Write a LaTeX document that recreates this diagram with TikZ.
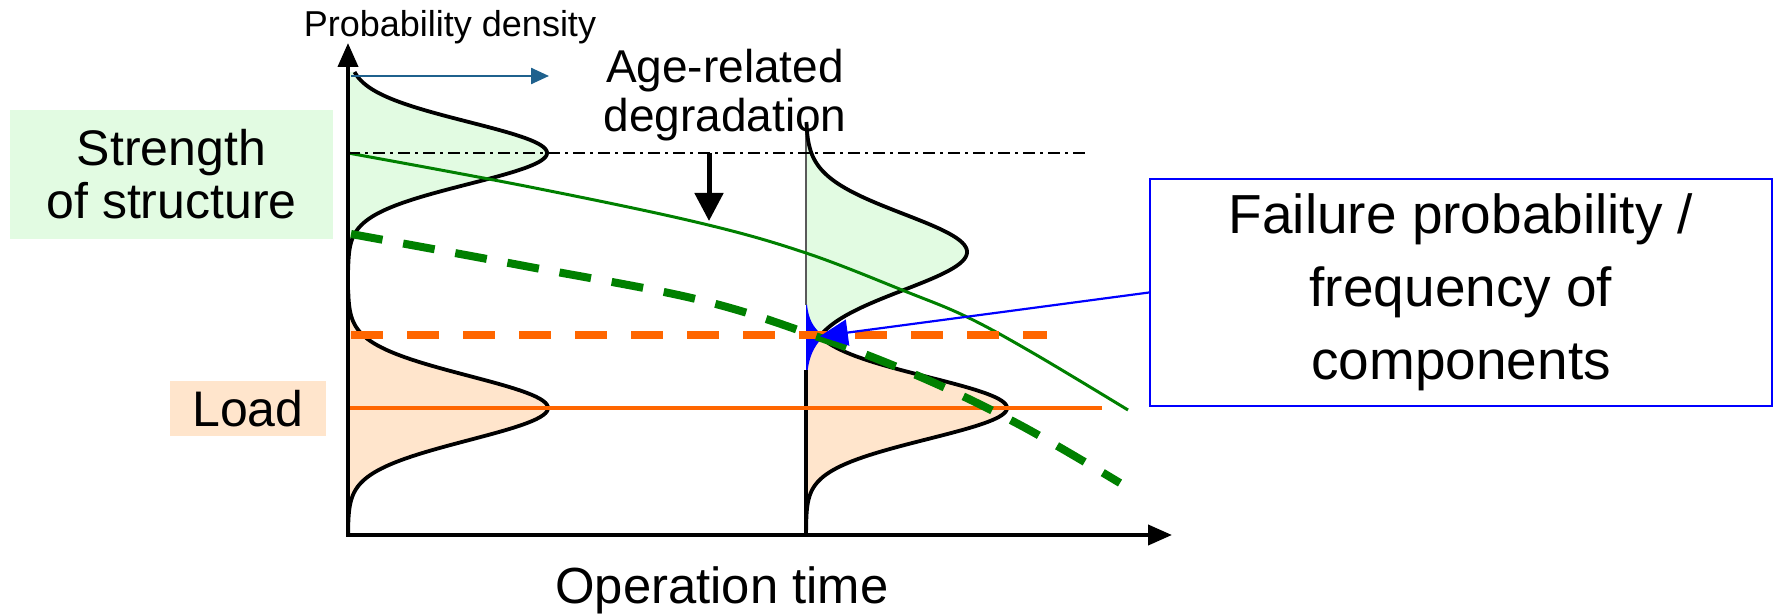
\documentclass[tikz,border=0pt]{standalone}
\usepackage{fontspec}
\setmainfont{Liberation Sans}
\usetikzlibrary{arrows.meta}
\definecolor{lgreen}{RGB}{226,251,226}
\definecolor{peach}{RGB}{255,229,204}
\definecolor{dgreen}{RGB}{0,128,0}
\definecolor{orng}{RGB}{255,102,0}
\definecolor{tealblue}{RGB}{31,97,141}
\begin{document}
\begin{tikzpicture}[x=0.5pt,y=-0.5pt,
  pdfline/.style={line width=1.9pt, black, line join=round},
  axisline/.style={line width=2pt, black},
  lbl/.style={inner sep=0pt, align=center},
  thickdash/.style={line width=4pt},
]
\useasboundingbox (0,0) rectangle (1775,614);

% ---------- label boxes ----------
\node[lbl, fill=lgreen, minimum width=161.5pt, minimum height=64.5pt,
      font=\fontsize{25}{26.5}\selectfont] (strength) at (171.5,174.5) {Strength\\of structure};
\node[lbl, fill=peach, minimum width=78pt, minimum height=27.5pt,
      font=\fontsize{25}{30}\selectfont] (load) at (248,408.5) {Load};

% ---------- pdfs at t = 0 ----------
\fill[lgreen] (348,72) -- plot[domain=72:270, samples=120, variable=\yy]
   ({348+199*exp(-0.5*((\yy-153)/31)*((\yy-153)/31))}, \yy) -- (348,270) -- cycle;
\fill[peach] (348,290) -- plot[domain=290:534, samples=120, variable=\yy]
   ({348+200*exp(-0.5*((\yy-408)/32)*((\yy-408)/32))}, \yy) -- (348,534) -- cycle;
\draw[pdfline] plot[domain=72:270, samples=120, variable=\yy]
   ({348+199*exp(-0.5*((\yy-153)/31)*((\yy-153)/31))}, \yy);
\draw[pdfline] plot[domain=290:534, samples=120, variable=\yy]
   ({348+200*exp(-0.5*((\yy-408)/32)*((\yy-408)/32))}, \yy);

% ---------- pdfs at t = t2 ----------
\fill[lgreen] (806,122) -- plot[domain=122:336.3, samples=120, variable=\yy]
   ({806+161*exp(-0.5*((\yy-252)/38)*((\yy-252)/38))}, \yy) -- (806,336.3) -- cycle;
\fill[peach] (806,336.3) -- plot[domain=336.3:532, samples=120, variable=\yy]
   ({806+201*exp(-0.5*((\yy-408)/31)*((\yy-408)/31))}, \yy) -- (806,532) -- cycle;
\fill[blue] (806,295) -- plot[domain=295:385, samples=150, variable=\yy]
   ({806+1.3*min(161*exp(-0.5*((\yy-252)/38)*((\yy-252)/38)),201*exp(-0.5*((\yy-408)/31)*((\yy-408)/31)))}, \yy) -- (806,385) -- cycle;
\draw[black!65, line width=1pt] (806,122) -- (806,305);
\draw[pdfline] plot[domain=122:336.3, samples=120, variable=\yy]
   ({806+161*exp(-0.5*((\yy-252)/38)*((\yy-252)/38))}, \yy);
\draw[pdfline] plot[domain=336.3:532, samples=120, variable=\yy]
   ({806+201*exp(-0.5*((\yy-408)/31)*((\yy-408)/31))}, \yy);
\draw[line width=1.9pt] (806,370) -- (806,533);

\coordinate (cross) at (819.8,336.3);

% ---------- reference lines ----------
\coordinate (ldA) at (348,408);  \coordinate (ldB) at (1102,408);
\draw[orng, line width=1.75pt] (ldA) -- (ldB);

\draw[dgreen, line width=1.5pt] plot[smooth, tension=0.6] coordinates
  {(348,153) (530,187) (700,223) (806,253) (907,292) (967,317) (1033,353) (1128,410)};

\coordinate (odA) at (351,335);  \coordinate (odB) at (1047,335);
\draw[orng, thickdash, dash pattern=on 16pt off 12pt] (odA) -- (odB);

\draw[dgreen, thickdash, dash pattern=on 16pt off 10.5pt] plot[smooth, tension=0.6] coordinates
  {(351,234) (530,267) (700,300) (818,337) (923,378) (1020,425) (1120,483)};

\coordinate (ddA) at (348,153);  \coordinate (ddB) at (1087,153);
\draw[line width=0.9pt, dash pattern=on 6pt off 2.5pt on 1.5pt off 2.5pt] (ddA) -- (ddB);

% ---------- arrows ----------
\coordinate (agA) at (709,153);  \coordinate (agB) at (709,221);
\draw[line width=2.5pt, -{Triangle[length=14pt,width=14pt]}] (agA) -- (agB);

\coordinate (tA) at (351,76);  \coordinate (tB) at (549,76);
\draw[tealblue, line width=1.2pt, -{Triangle[length=9pt,width=8pt]}] (tA) -- (tB);

% ---------- failure box ----------
\node[lbl, draw=blue, line width=1pt, minimum width=311pt, minimum height=113.5pt,
      font=\fontsize{27.5}{36.5}\selectfont] (fbox) at (1461,292.5)
      {Failure probability /\\frequency of\\components};
\draw[blue, line width=1.1pt, -{Triangle[length=14pt,width=13pt]}] (fbox.west) -- (cross);

% ---------- axes ----------
\coordinate (O) at (348,535);
\coordinate (ytop) at (348,43);
\coordinate (xend) at (1172,535);
\draw[axisline, line join=miter, {Triangle[length=12pt,width=10pt]}-{Triangle[length=12pt,width=10pt]}]
  (ytop) -- (O) -- (xend);

% ---------- texts ----------
\node[lbl, font=\fontsize{18}{22}\selectfont] (pd) at (450,27) {Probability density};
\node[lbl, font=\fontsize{23}{24.5}\selectfont] (age) at (725,95) {Age-related\\degradation};
\node[lbl, font=\fontsize{25.4}{30}\selectfont] (ot) at (722,590) {Operation time};
\end{tikzpicture}
\end{document}
